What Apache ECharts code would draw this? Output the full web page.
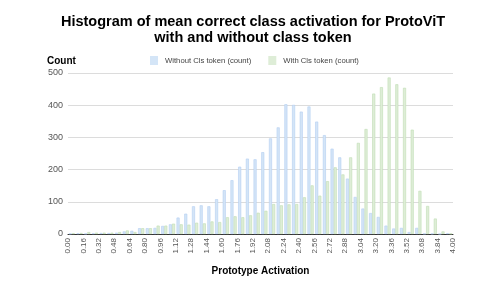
<!DOCTYPE html>
<html><head><meta charset="utf-8">
<script src="https://cdn.jsdelivr.net/npm/echarts@6/dist/echarts.min.js"></script>
<style>html,body{margin:0;padding:0;background:#fff}#c{width:500px;height:282px}</style>
</head><body><div id="c"></div>
<script>
// bucket lower edges (bucket width 0.08)
const bucketStarts = [0.00,0.08,0.16,0.24,0.32,0.40,0.48,0.56,0.64,0.72,0.80,0.88,0.96,1.04,1.12,1.20,1.28,1.36,1.44,1.52,1.60,1.68,1.76,1.84,1.92,2.00,2.08,2.16,2.24,2.32,2.40,2.48,2.56,2.64,2.72,2.80,2.88,2.96,3.04,3.12,3.20,3.28,3.36,3.44,3.52,3.60,3.68,3.76,3.84,3.92];
const bucketWidth = 0.08;
const withoutCls = [1,2,1,2,3,3,4,8,10,18,18,19,25,30,51,63,86,89,86,108,136,167,209,234,232,254,297,331,403,401,380,396,349,307,265,238,172,115,79,65,53,26,17,19,6,19,1,1,0,2];
const withCls = [2,3,6,4,4,4,6,11,6,18,18,26,26,32,30,29,35,33,39,37,52,55,52,58,66,72,93,89,92,93,114,151,119,164,207,185,238,283,326,436,456,486,465,454,324,134,87,48,8,1];
const seriesNames = ['Without Cls token (count)','With Cls token (count)'];
const titleText = 'Histogram of mean correct class activation for ProtoViT\nwith and without class token';
const xName = 'Prototype Activation';
const yName = 'Count';

const chart = echarts.init(document.getElementById('c'));
const mk = vals => vals.map((v,i)=>[bucketStarts[i]+bucketWidth/2, v]);
chart.setOption({
  animation:false,
  textStyle:{fontFamily:'Liberation Sans, Arial, sans-serif'},
  title:{text:titleText,left:248,textAlign:'center',top:9,
    textStyle:{fontSize:14.5,fontWeight:'bold',color:'#000',lineHeight:16}},
  legend:{top:51,left:145,itemWidth:8,itemHeight:9,itemGap:17,icon:'rect',
    itemStyle:{borderWidth:0},
    textStyle:{fontSize:7.7,color:'#444',padding:[0,0,0,2]}},
  grid:{left:68,right:47,top:73,bottom:48},
  graphic:[{type:'text',left:47,top:56,style:{text:yName,fontSize:10,fontWeight:'bold',fill:'#000',font:'bold 10px Liberation Sans, Arial'}}],
  xAxis:{type:'value',min:0,max:4,interval:0.16,
    name:xName,nameLocation:'middle',nameGap:32,
    nameTextStyle:{fontSize:10,fontWeight:'bold',color:'#000'},
    axisLine:{show:true,lineStyle:{color:'#333'}},
    axisTick:{show:false},splitLine:{show:false},
    axisLabel:{rotate:90,fontSize:8,color:'#555',margin:4,formatter:v=>v.toFixed(2)}},
  yAxis:{type:'value',min:0,max:500,interval:100,
    axisLine:{show:false},axisTick:{show:false},
    splitLine:{lineStyle:{color:'#dcdcdc'}},
    axisLabel:{fontSize:9,color:'#555',margin:5}},
  series:[
    {name:seriesNames[0],type:'bar',data:mk(withoutCls),barWidth:3,barGap:'5%',
      itemStyle:{color:'#d4e5f7',borderColor:'#b3cff1',borderWidth:0.6}},
    {name:seriesNames[1],type:'bar',data:mk(withCls),barWidth:3,barGap:'5%',
      itemStyle:{color:'#deedd7',borderColor:'#c0ddb3',borderWidth:0.6}}
  ]
});
</script></body></html>
